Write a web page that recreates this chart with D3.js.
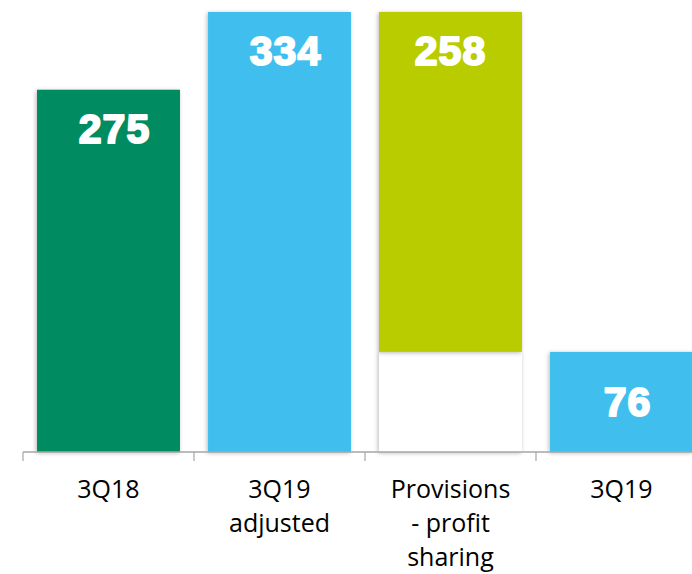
<!DOCTYPE html>
<html>
<head>
<meta charset="utf-8">
<script src="https://cdn.jsdelivr.net/npm/d3@7"></script>
<style>
  body { margin: 0; background: #fff; }
  svg { display: block; }
</style>
</head>
<body>
<div id="chart"></div>
<script>
// Data
var categories = ["3Q18", "3Q19\nadjusted", "Provisions\n- profit\nsharing", "3Q19"];
var values = [275, 334, -258, 76];
var kinds = ["total", "total", "delta", "total"];
var colors = ["#038c61", "#41bfef", "#b8cc00", "#41bfef"];

function init() {
    var w = 692;
    var h = 574;

    // Build the waterfall segments
    var running = 0;
    var bars = categories.map(function(c, i) {
        var lo, hi;
        if (kinds[i] === "total") {
            lo = 0; hi = values[i]; running = values[i];
        } else {
            var next = running + values[i];
            lo = Math.min(running, next); hi = Math.max(running, next);
            running = next;
        }
        return { cat: c, value: Math.abs(values[i]), lo: lo, hi: hi, kind: kinds[i], color: colors[i] };
    });

    var svg = d3.select("#chart")
      .append("svg")
      .attr("width", w)
      .attr("height", h);

    // soft shadow like the original
    var f = svg.append("defs").append("filter")
      .attr("id", "shadow")
      .attr("x", "-10%").attr("y", "-10%")
      .attr("width", "120%").attr("height", "120%");
    f.append("feDropShadow")
      .attr("dx", -1).attr("dy", 1)
      .attr("stdDeviation", 2)
      .attr("flood-color", "#000")
      .attr("flood-opacity", 0.28);

    var xScale = d3.scaleBand()
      .domain(categories)
      .range([23, 707])
      .paddingInner(0.164)
      .paddingOuter(0.082);

    var yScale = d3.scaleLinear()
      .domain([0, d3.max(bars, function(d) { return d.hi; })])
      .range([452, 12]);

    // white base under floating bars
    svg.selectAll("rect.base")
      .data(bars.filter(function(d) { return d.kind === "delta"; }))
      .enter()
      .append("rect")
      .attr("class", "base")
      .attr("x", function(d) { return xScale(d.cat); })
      .attr("width", xScale.bandwidth())
      .attr("y", function(d) { return yScale(d.lo); })
      .attr("height", function(d) { return yScale(0) - yScale(d.lo); })
      .attr("fill", "#fff")
      .attr("filter", "url(#shadow)");

    // Bars
    svg.selectAll("rect.bar")
      .data(bars)
      .enter()
      .append("rect")
      .attr("class", "bar")
      .attr("x", function(d) { return xScale(d.cat); })
      .attr("width", xScale.bandwidth())
      .attr("y", function(d) { return yScale(d.hi); })
      .attr("height", function(d) { return yScale(d.lo) - yScale(d.hi); })
      .attr("fill", function(d) { return d.color; })
      .attr("filter", "url(#shadow)");

    // Value labels (heavy, Arial Black-ish)
    svg.selectAll("text.val")
      .data(bars)
      .enter()
      .append("text")
      .attr("class", "val")
      .attr("text-anchor", "middle")
      .attr("x", function(d) {
        return xScale(d.cat) + xScale.bandwidth() / 2 + (d.kind === "delta" ? 0 : 6);
      })
      .attr("y", function(d) {
        var top = yScale(d.hi), bot = yScale(d.lo);
        if (bot - top < 120) return (top + bot) / 2 + 14;
        return top + 53;
      })
      .style("font-family", "'Liberation Sans', Arial, sans-serif")
      .style("font-weight", "bold")
      .style("font-size", "41px")
      .style("letter-spacing", "1px")
      .style("fill", "#fff")
      .style("stroke", "#fff")
      .style("stroke-width", "2px")
      .style("stroke-linejoin", "round")
      .text(function(d) { return d.value; });

    // Axis line and ticks at band boundaries
    var axis = svg.append("g");
    var x0 = xScale.range()[0], x1 = xScale.range()[1];
    axis.append("line")
      .attr("x1", x0).attr("x2", x1)
      .attr("y1", yScale(0)).attr("y2", yScale(0))
      .attr("stroke", "#a6a6a6")
      .attr("stroke-width", 1.5);
    axis.selectAll("line.tick")
      .data(d3.range(categories.length + 1))
      .enter()
      .append("line")
      .attr("class", "tick")
      .attr("x1", function(i) { return x0 + i * xScale.step(); })
      .attr("x2", function(i) { return x0 + i * xScale.step(); })
      .attr("y1", yScale(0))
      .attr("y2", yScale(0) + 9)
      .attr("stroke", "#a6a6a6")
      .attr("stroke-width", 1.2);

    // Category labels
    var labels = svg.selectAll("text.cat")
      .data(categories)
      .enter()
      .append("text")
      .attr("class", "cat")
      .attr("text-anchor", "middle")
      .attr("x", function(d) { return xScale(d) + xScale.bandwidth() / 2; })
      .attr("y", 498)
      .style("font-family", "'Open Sans', sans-serif")
      .style("font-size", "25px")
      .style("fill", "#000");

    labels.each(function(d) {
        var el = d3.select(this);
        var x = el.attr("x");
        d.split("\n").forEach(function(line, i) {
            el.append("tspan")
              .attr("x", x)
              .attr("dy", i === 0 ? 0 : 34)
              .text(line);
        });
    });
}

window.onload = init;
</script>
</body>
</html>
